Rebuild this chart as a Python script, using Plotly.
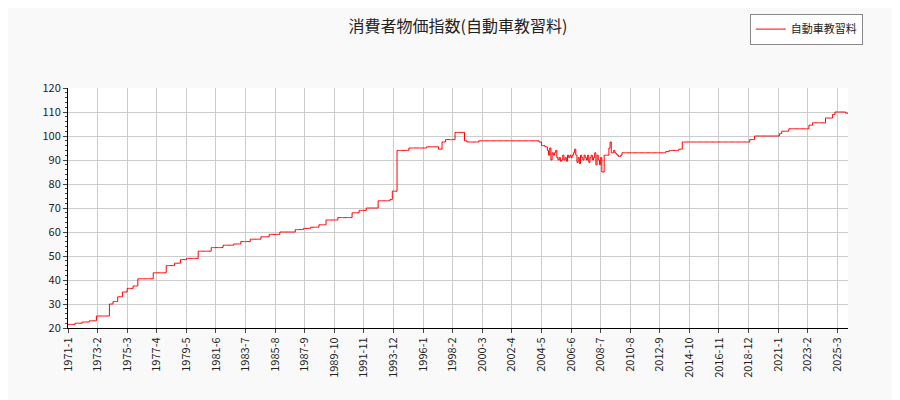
import plotly.graph_objects as go

# step change points: (month index from 1971-01, value)
change_idx = [0, 6, 12, 18, 24, 35, 38, 42, 46, 50, 55, 59, 72, 83, 90, 95, 100, 110, 121, 131, 140, 146, 154, 163, 170, 179, 192, 199, 205, 212, 218, 228, 240, 246, 252, 262, 272, 274, 278, 288, 303, 313, 316, 319, 327, 335, 337, 347, 398]
change_val = [21.5, 22.0, 22.5, 23.0, 25.0, 30.0, 31.0, 33.0, 35.0, 36.5, 37.5, 40.5, 43.0, 46.0, 47.0, 48.5, 49.0, 52.0, 53.5, 54.5, 55.0, 56.0, 57.0, 58.0, 59.0, 60.0, 61.0, 61.5, 62.0, 63.0, 65.0, 66.0, 68.0, 69.0, 70.0, 73.0, 73.5, 77.0, 94.0, 95.0, 95.5, 94.5, 97.5, 98.5, 101.5, 98.0, 97.5, 98.0, 97.5]
# noisy period, monthly from index 400
noisy_start = 400
noisy_vals = [96, 96, 96, 95.5, 95.5, 94, 92, 95, 90, 93, 92, 93, 94, 91, 90, 91, 89.5, 90, 92, 90, 91, 89.5, 92, 91, 92, 91, 92, 93, 94.5, 92, 89, 91, 88.5, 92, 91, 90, 92, 91, 90, 92, 89, 91, 92, 90, 91, 93, 88, 92, 90, 88, 91, 85, 85, 92, 92, 92, 92, 95, 97.5, 93, 93, 94, 93, 92.5, 92, 91.5, 91.5, 92, 93]
# later step changes
late_idx = [469, 505, 508, 516, 519, 576, 580, 590, 601, 603, 609, 616, 626, 629, 640, 646, 648, 657]
late_val = [93.0, 93.5, 94.0, 94.5, 97.5, 98.5, 100.0, 100.0, 101.0, 102.0, 103.0, 103.0, 104.5, 105.5, 107.5, 109.0, 110.0, 109.5]
last_idx = 659

values = [None] * (last_idx + 1)
pts = sorted(zip(change_idx, change_val)) + sorted(zip(late_idx, late_val))
cur = change_val[0]
for i in range(last_idx + 1):
    for ci, cv in pts:
        if ci == i:
            cur = cv
    values[i] = cur
for k, v in enumerate(noisy_vals):
    values[noisy_start + k] = v

cats = [f"{1971 + i // 12}-{i % 12 + 1}" for i in range(last_idx + 1)]
tickvals = cats[::25]

fig = go.Figure(go.Scatter(x=cats, y=values, mode="lines", name="自動車教習料",
                           line=dict(color="red", width=1, shape="hv")))
font = "Noto Sans CJK JP, sans-serif"
fig.update_layout(
    width=900, height=400, paper_bgcolor="#f9f9f9", plot_bgcolor="white",
    margin=dict(l=60, r=60, t=80, b=80, autoexpand=False),
    title=dict(text="消費者物価指数(自動車教習料)", x=0.5, y=0.955, xanchor="center", yanchor="middle",
               font=dict(family=font, size=16, color="#222")),
    font=dict(family=font, size=11, color="#222"),
    showlegend=True,
    legend=dict(x=1.019, y=1.31, xanchor="right", yanchor="top", bgcolor="white",
                bordercolor="#888", borderwidth=1, font=dict(size=11)),
    xaxis=dict(type="category", tickmode="array", tickvals=tickvals, tickangle=-90,
               showgrid=True, gridcolor="#cccccc", showline=True, linecolor="black",
               ticks="outside", ticklen=4, range=[0, last_idx], automargin=False),
    yaxis=dict(range=[20, 120], dtick=10, showgrid=True, gridcolor="#cccccc",
               showline=True, linecolor="black", ticks="outside", ticklen=4, automargin=False,
               minor=dict(dtick=2, ticks="outside", ticklen=2)),
)
fig.write_html("out.html")
